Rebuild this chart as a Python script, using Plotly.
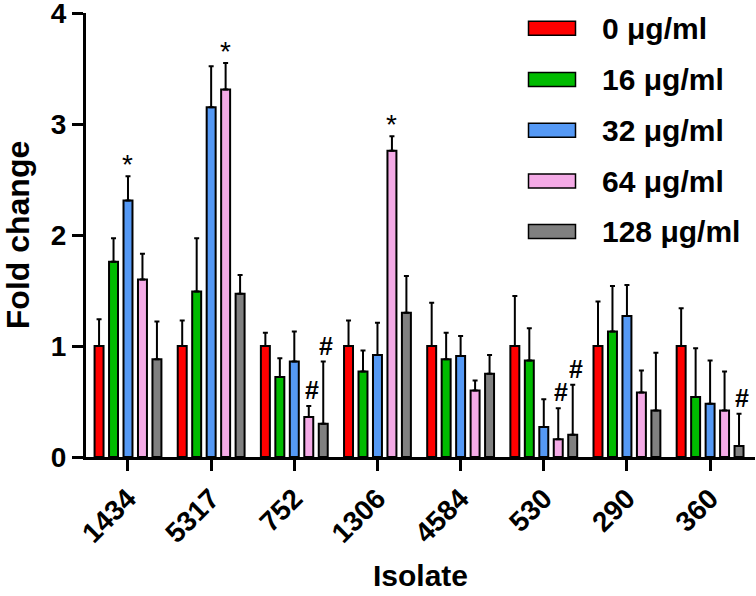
import plotly.graph_objects as go

# ---- data ----
isolates = ["1434", "5317", "752", "1306", "4584", "530", "290", "360"]
series_names = ["0 μg/ml", "16 μg/ml", "32 μg/ml", "64 μg/ml", "128 μg/ml"]

conc_0 = [1.00, 1.00, 1.00, 1.00, 1.00, 1.00, 1.00, 1.00]
conc_16 = [1.76, 1.49, 0.72, 0.77, 0.88, 0.87, 1.13, 0.54]
conc_32 = [2.31, 3.15, 0.86, 0.92, 0.91, 0.27, 1.27, 0.48]
conc_64 = [1.60, 3.31, 0.36, 2.76, 0.60, 0.16, 0.58, 0.42]
conc_128 = [0.88, 1.47, 0.30, 1.30, 0.75, 0.20, 0.42, 0.10]

err_0 = [0.24, 0.23, 0.12, 0.23, 0.39, 0.45, 0.40, 0.34]
err_16 = [0.21, 0.48, 0.17, 0.19, 0.24, 0.29, 0.41, 0.44]
err_32 = [0.22, 0.37, 0.27, 0.29, 0.18, 0.25, 0.28, 0.39]
err_64 = [0.23, 0.24, 0.10, 0.13, 0.09, 0.28, 0.20, 0.35]
err_128 = [0.34, 0.17, 0.56, 0.33, 0.17, 0.45, 0.52, 0.29]

# significance marks: isolate, series index, symbol
sig_isolate = ["1434", "5317", "1306", "752", "752", "530", "530", "360"]
sig_series = [2, 3, 3, 3, 4, 3, 4, 4]
sig_text = ["*", "*", "*", "#", "#", "#", "#", "#"]

values = [conc_0, conc_16, conc_32, conc_64, conc_128]
errors = [err_0, err_16, err_32, err_64, err_128]
colors = ["#FF0000", "#00BB00", "#5599F5", "#F4AAE6", "#808080"]

FONT = "Arial, Liberation Sans, sans-serif"

fig = go.Figure()
for name, v, e, c in zip(series_names, values, errors, colors):
    fig.add_trace(go.Bar(
        x=isolates, y=v, name=name,
        marker=dict(color=c, line=dict(color="black", width=2)),
        error_y=dict(type="data", array=e, arrayminus=[0] * len(e), symmetric=False,
                     color="black", thickness=2, width=2.5),
        showlegend=False,
    ))

# plot area geometry (pixels)
W, H = 756, 596
L, R, T, B = 86, 1, 13, 139
pw, ph = W - L - R, H - T - B

bargap = 0.13
slot = (1 - bargap) / 5

annotations = []
for iso, s, txt in zip(sig_isolate, sig_series, sig_text):
    i = isolates.index(iso)
    top = values[s][i] + errors[s][i]
    xpos = i + (s - 2) * slot
    if txt == "*":
        annotations.append(dict(x=xpos, y=top, xref="x", yref="y", text="*", showarrow=False,
                                yanchor="bottom", yshift=-6,
                                font=dict(family=FONT, size=28, color="black")))
    else:
        annotations.append(dict(x=xpos, y=top, xref="x", yref="y", text="<b>#</b>", showarrow=False,
                                yanchor="bottom", yshift=0, xshift=3,
                                font=dict(family=FONT, size=25, color="black")))

# custom legend
shapes = []
row_y = [28.3, 79.5, 130.3, 181, 231.6]
def px2paper_x(px):
    return (px - L) / pw
def px2paper_y(py):
    return (H - B - py) / ph
for name, c, ry in zip(series_names, colors, row_y):
    shapes.append(dict(type="rect", xref="paper", yref="paper",
                       x0=px2paper_x(528.5), x1=px2paper_x(575.5),
                       y0=px2paper_y(ry + 7), y1=px2paper_y(ry - 7),
                       fillcolor=c, line=dict(color="black", width=1.5)))
    annotations.append(dict(x=px2paper_x(600), y=px2paper_y(ry), xref="paper", yref="paper",
                            text="<b>" + name + "</b>", showarrow=False,
                            xanchor="left", yanchor="middle",
                            font=dict(family=FONT, size=30, color="black")))

fig.update_layout(
    width=W, height=H,
    margin=dict(l=L, r=R, t=T, b=B, pad=0, autoexpand=False),
    barmode="group", bargap=bargap, bargroupgap=0.38,
    plot_bgcolor="white", paper_bgcolor="white",
    font=dict(family=FONT, color="black"),
    shapes=shapes, annotations=annotations,
    xaxis=dict(
        range=[-0.505, 7.54], showgrid=False, zeroline=False, automargin=False,
        showline=True, linecolor="black", linewidth=3,
        ticks="outside", ticklen=11, tickwidth=3, tickcolor="black",
        tickangle=-45, tickfont=dict(family=FONT, size=28, color="black"),
        tickmode="array", tickvals=isolates, ticktext=["<b>%s</b>" % s for s in isolates],
        title=dict(text="<b>Isolate</b>", font=dict(family=FONT, size=30, color="black"), standoff=18),
    ),
    yaxis=dict(
        range=[0, 4], showgrid=False, zeroline=False, automargin=False,
        showline=True, linecolor="black", linewidth=3,
        ticks="outside", ticklen=11, tickwidth=3, tickcolor="black",
        ticklabeloverflow="allow",
        tickfont=dict(family=FONT, size=28, color="black"),
        tickmode="array", tickvals=[0, 1, 2, 3, 4],
        ticktext=["<b>0</b>", "<b>1</b>", "<b>2</b>", "<b>3</b>", "<b>4</b>"],
        title=dict(text="<b>Fold change</b>", font=dict(family=FONT, size=32, color="black"), standoff=12),
    ),
)

fig.write_html("out.html", config={"displayModeBar": False},
               post_script="document.body.style.margin='0';document.body.style.overflow='hidden';")
